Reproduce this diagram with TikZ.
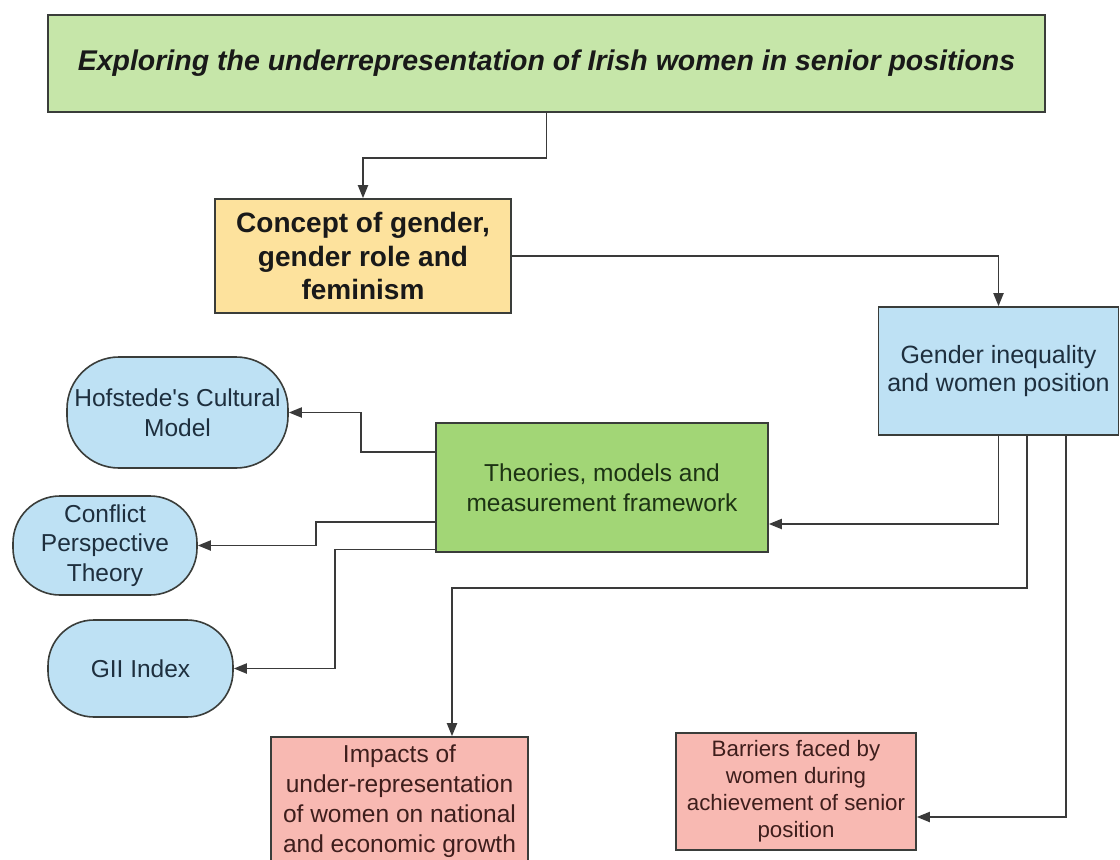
\documentclass[tikz,border=0pt]{standalone}
\usepackage{fontspec}
\setmainfont{Liberation Sans}
\usetikzlibrary{arrows.meta}
\definecolor{titlefill}{HTML}{C6E6A9}
\definecolor{yellowfill}{HTML}{FDE29D}
\definecolor{bluefill}{HTML}{BEE1F4}
\definecolor{greenfill}{HTML}{A2D676}
\definecolor{pinkfill}{HTML}{F8B9B2}
\definecolor{edgecol}{HTML}{3A3D3A}
\definecolor{linecol}{HTML}{3A3A3A}
\definecolor{bluetext}{HTML}{1E2F3E}
\definecolor{greentext}{HTML}{1D3314}
\definecolor{pinktext}{HTML}{3E1E1C}
\tikzset{
  boxbase/.style={draw=edgecol, line width=1.6pt, inner sep=0pt, align=center},
  titlebox/.style={boxbase, fill=titlefill, font=\fontsize{28.5}{33}\selectfont\bfseries\itshape, text=black!90},
  conceptbox/.style={boxbase, fill=yellowfill, font=\fontsize{28}{33.5}\selectfont\bfseries, text=black!90},
  bluebox/.style={boxbase, fill=bluefill, font=\fontsize{25}{28}\selectfont, text=bluetext},
  greenbox/.style={boxbase, fill=greenfill, font=\fontsize{24.5}{30}\selectfont, text=greentext},
  pinkbox/.style={boxbase, fill=pinkfill, font=\fontsize{24.5}{30}\selectfont, text=pinktext},
  smallpink/.style={boxbase, fill=pinkfill, font=\fontsize{22.3}{27}\selectfont, text=pinktext},
  pill/.style={boxbase, fill=bluefill, font=\fontsize{24.5}{29.5}\selectfont, text=bluetext},
  conn/.style={draw=linecol, line width=1.9pt, -{Triangle[length=13pt,width=10pt]}}
}
\begin{document}
\begin{tikzpicture}[x=1pt,y=-1pt]
\useasboundingbox[fill=white] (0,0) rectangle (1120,860);
\node[titlebox, minimum width=997pt, minimum height=97pt] (title) at (546.5,63.5)
  {Exploring the underrepresentation of Irish women in senior positions};
\node[conceptbox, minimum width=296pt, minimum height=114pt] (concept) at (363,256)
  {Concept of gender,\\gender role and\\feminism};
\node[bluebox, minimum width=240pt, minimum height=128pt] (gender) at (998.5,371)
  {Gender inequality\\and women position};
\node[greenbox, minimum width=332pt, minimum height=129pt] (theories) at (602,487.5)
  {Theories, models and\\measurement framework};
\node[pill, rounded corners=52pt, minimum width=221pt, minimum height=111pt] (hof) at (177.5,412.5)
  {Hofstede\textquotesingle s Cultural\\Model};
\node[pill, rounded corners=47pt, minimum width=184pt, minimum height=99pt] (conflict) at (105,545.5)
  {Conflict\\Perspective\\Theory};
\node[pill, rounded corners=46pt, minimum width=185pt, minimum height=97pt] (gii) at (140.5,668.5)
  {GII Index};
\node[pinkbox, minimum width=257pt, minimum height=128pt] (impacts) at (399.5,801)
  {Impacts of\\under-representation\\of women on national\\and economic growth};
\node[smallpink, minimum width=240pt, minimum height=117pt] (barriers) at (796,791.5)
  {Barriers faced by\\women during\\achievement of senior\\position};
\draw[conn] (title.south) -- ++(0,45) -| (concept.north);
\draw[conn] (concept.east) -| (gender.north);
\draw[conn] (gender.south) |- ([yshift=-36.5pt]theories.east);
\draw[conn] ([xshift=28.5pt]gender.south) -- ++(0,152) -| ([xshift=52.5pt]impacts.north);
\draw[conn] ([xshift=67.5pt]gender.south) |- ([yshift=-25.5pt]barriers.east);
\draw[conn] ([yshift=35.5pt]theories.west) -- ++(-74,0) |- (hof.east);
\draw[conn] ([yshift=-34.5pt]theories.west) -- ++(-119,0) |- (conflict.east);
\draw[conn] ([yshift=-62pt]theories.west) -- ++(-100,0) |- (gii.east);
\end{tikzpicture}
\end{document}
